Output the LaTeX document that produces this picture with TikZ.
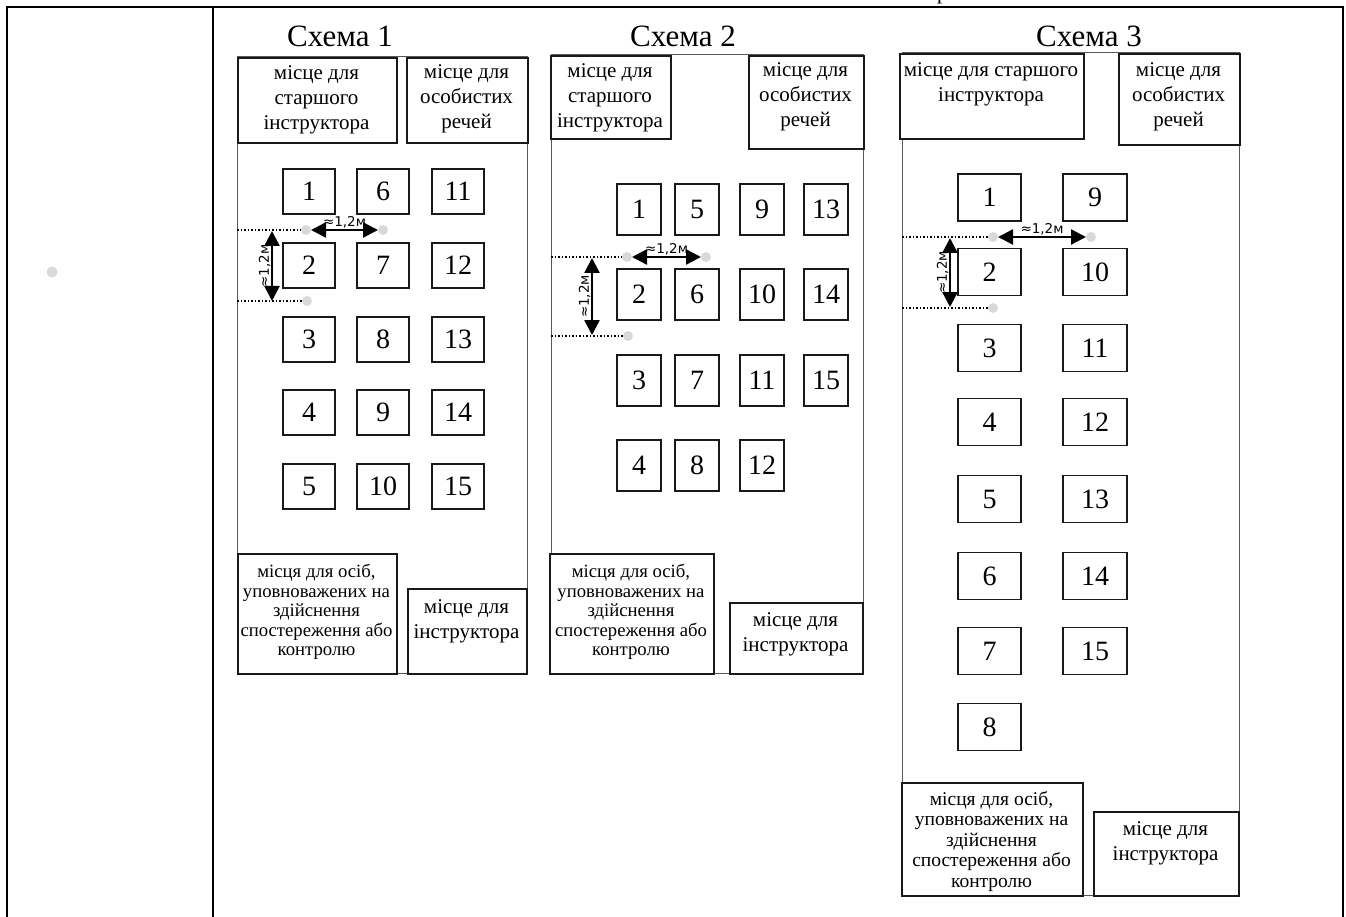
\documentclass[tikz,border=0pt]{standalone}
\usepackage{fontspec}
\setmainfont{Liberation Serif}
\newfontfamily\dimfont{DejaVu Sans}
\usetikzlibrary{arrows.meta}
\begin{document}
\begin{tikzpicture}[x=1pt,y=-1pt,
  tbl/.style={line width=2.8pt, black},
  wall/.style={line width=1pt, draw=black!65},
  area/.style={draw=black!90, fill=white, line width=1.9pt, inner sep=0pt, anchor=north west},
  seat/.style={draw=black!90, fill=white, line width=1.7pt, inner sep=0pt, font=\fontsize{28}{28}\selectfont},
  txt/.style={align=center, font=\fontsize{21}{25}\selectfont, inner sep=0pt, anchor=north},
  smalltxt/.style={align=center, font=\fontsize{18.7}{19.5}\selectfont, inner sep=0pt, anchor=north},
  ttl/.style={font=\fontsize{31}{31}\selectfont, inner sep=0pt, anchor=base},
  gdot/.style={circle, fill=black!15, minimum size=10pt, inner sep=0pt, outer sep=0pt},
  guide/.style={dotted, line width=1.5pt},
  dimarrow/.style={line width=2.4pt, {Triangle[length=15pt,width=15pt]}-{Triangle[length=15pt,width=15pt]}},
  dimlbl/.style={font=\dimfont\fontsize{13.5}{13.5}\selectfont, inner sep=0.3pt}
]
\useasboundingbox (0,0) rectangle (1346,917);
\clip (0,0) rectangle (1346,917);

% table frame
\draw[tbl] (5.6,7) -- (1344.4,7);
\draw[tbl] (7,7) -- (7,917);
\draw[tbl] (213,7) -- (213,917);
\draw[tbl] (1343,7) -- (1343,917);
\node[gdot, minimum size=11pt] (mark) at (52,272) {};
\node[anchor=base west, inner sep=0pt, font=\fontsize{21}{25}\selectfont] (frag) at (937,0) {р};

% ================= Scheme 1 =================
\node[ttl] (t1) at (340,47) {Схема 1};
\draw[wall] (237,57) rectangle (527,673);
\node[area, minimum width=159pt, minimum height=85pt] (s1a) at (237,57) {};
\node[txt] (s1at) at (316.5,65) {місце для\\старшого\\інструктора};
\node[area, minimum width=121pt, minimum height=85pt] (s1b) at (406,57) {};
\node[txt] (s1bt) at (466.5,64) {місце для\\особистих\\речей};
\node[area, minimum width=159pt, minimum height=120pt] (s1c) at (237,553) {};
\node[smalltxt] (s1ct) at (316.5,564) {місця для осіб,\\уповноважених на\\здійснення\\спостереження або\\контролю};
\node[area, minimum width=119pt, minimum height=85pt] (s1d) at (407,588) {};
\node[txt] (s1dt) at (466.5,599) {місце для\\інструктора};
\foreach \c/\x in {0/309,1/383,2/458}{
  \foreach \r/\y in {1/191.5,2/265.5,3/339.5,4/412.5,5/486.5}{
    \pgfmathtruncatemacro{\n}{\c*5+\r}
    \node[seat, minimum width=52pt, minimum height=45pt] (s1n\n) at (\x,\y) {\n};
  }
}
\coordinate (s1w1) at (237,230);
\node[gdot] (s1d1) at (306,230) {};
\node[gdot] (s1d2) at (383,230) {};
\draw[guide] (s1w1) -- (s1d1);
\draw[dimarrow] (s1d1) -- (s1d2) node[dimlbl, midway, above] (s1l1) {≈1,2м};
\coordinate (s1v1) at (272,231);
\coordinate (s1v2) at (272,301);
\draw[dimarrow] (s1v1) -- (s1v2) node[dimlbl, midway, rotate=90, anchor=south] (s1l2) {≈1,2м};
\coordinate (s1w2) at (237,301);
\node[gdot] (s1d3) at (307,301) {};
\draw[guide] (s1w2) -- (s1d3);

% ================= Scheme 2 =================
\node[ttl] (t2) at (683,47) {Схема 2};
\draw[wall] (551,55) rectangle (863,673);
\node[area, minimum width=120pt, minimum height=83pt] (s2a) at (550,55) {};
\node[txt] (s2at) at (610,63) {місце для\\старшого\\інструктора};
\node[area, minimum width=115pt, minimum height=93pt] (s2b) at (748,55) {};
\node[txt] (s2bt) at (805.5,62) {місце для\\особистих\\речей};
\node[area, minimum width=164pt, minimum height=120pt] (s2c) at (549,553) {};
\node[smalltxt] (s2ct) at (631,564) {місця для осіб,\\уповноважених на\\здійснення\\спостереження або\\контролю};
\node[area, minimum width=133pt, minimum height=71pt] (s2d) at (729,602) {};
\node[txt] (s2dt) at (795.5,612) {місце для\\інструктора};
\foreach \c/\x in {0/639,1/697,2/762,3/826}{
  \foreach \r/\y in {1/209.5,2/294.5,3/380.5,4/465.5}{
    \pgfmathtruncatemacro{\n}{\c*4+\r}
    \ifnum\n<16
      \node[seat, minimum width=44pt, minimum height=51pt] (s2n\n) at (\x,\y) {\n};
    \fi
  }
}
\coordinate (s2w1) at (551,257);
\node[gdot] (s2d1) at (627,257) {};
\node[gdot] (s2d2) at (706,257) {};
\draw[guide] (s2w1) -- (s2d1);
\draw[dimarrow] (s2d1) -- (s2d2) node[dimlbl, midway, above] (s2l1) {≈1,2м};
\coordinate (s2v1) at (592,258);
\coordinate (s2v2) at (592,335);
\draw[dimarrow] (s2v1) -- (s2v2) node[dimlbl, midway, rotate=90, anchor=south] (s2l2) {≈1,2м};
\coordinate (s2w2) at (551,336);
\node[gdot] (s2d3) at (628,336) {};
\draw[guide] (s2w2) -- (s2d3);

% ================= Scheme 3 =================
\node[ttl] (t3) at (1089,47) {Схема 3};
\draw[wall] (902,53) rectangle (1239,895);
\node[area, minimum width=184pt, minimum height=85pt] (s3a) at (899,53) {};
\node[txt] (s3at) at (991,62) {місце для старшого\\інструктора};
\node[area, minimum width=121pt, minimum height=91pt] (s3b) at (1118,53) {};
\node[txt] (s3bt) at (1178.5,62) {місце для\\особистих\\речей};
\node[area, minimum width=181pt, minimum height=113pt] (s3c) at (901,782) {};
\node[txt, font=\fontsize{19.5}{20.5}\selectfont] (s3ct) at (991.5,791) {місця для осіб,\\уповноважених на\\здійснення\\спостереження або\\контролю};
\node[area, minimum width=145pt, minimum height=84pt] (s3d) at (1093,811) {};
\node[txt] (s3dt) at (1165.5,821) {місце для\\інструктора};
\foreach \n/\y in {1/197.5,2/272,3/348,4/422,5/499,6/576,7/651,8/727}{
  \node[seat, minimum width=63pt, minimum height=47pt] (s3n\n) at (989.5,\y) {\n};
}
\foreach \n/\y in {9/197.5,10/272,11/348,12/422,13/499,14/576,15/651}{
  \node[seat, minimum width=64pt, minimum height=47pt] (s3n\n) at (1095,\y) {\n};
}
\coordinate (s3w1) at (902,237);
\node[gdot] (s3d1) at (993,237) {};
\node[gdot] (s3d2) at (1091,237) {};
\draw[guide] (s3w1) -- (s3d1);
\draw[dimarrow] (s3d1) -- (s3d2) node[dimlbl, midway, above] (s3l1) {≈1,2м};
\coordinate (s3v1) at (950,238);
\coordinate (s3v2) at (950,307);
\draw[dimarrow] (s3v1) -- (s3v2) node[dimlbl, midway, rotate=90, anchor=south] (s3l2) {≈1,2м};
\coordinate (s3w2) at (902,308);
\node[gdot] (s3d3) at (993,308) {};
\draw[guide] (s3w2) -- (s3d3);
\end{tikzpicture}
\end{document}
